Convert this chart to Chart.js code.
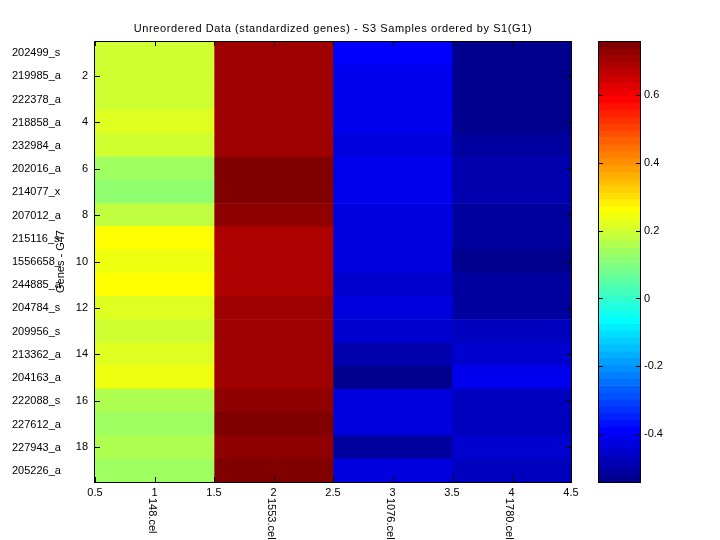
<!DOCTYPE html>
<html>
<head>
<meta charset="utf-8">
<script src="https://cdn.jsdelivr.net/npm/chart.js@4.4.1/dist/chart.umd.min.js"></script>
<style>
  body { margin: 0; background: #fff; }
  #wrap { position: relative; width: 720px; height: 540px; background: #fff; }
  #wrap canvas { position: absolute; left: 0; top: 0; }
</style>
</head>
<body>
<div id="wrap">
  <canvas id="heatmap-canvas" width="720" height="540"></canvas>
  <canvas id="colorbar-canvas" width="720" height="540"></canvas>
</div>
<script>
// heatmap of standardized genes, jet colormap

const chartTitle = 'Unreordered Data (standardized genes) - S3 Samples ordered by S1(G1)'
const yTitle = 'Genes - G47'

const genes = ['202499_s', '219985_a', '222378_a', '218858_a', '232984_a', '202016_a', '214077_x',
  '207012_a', '215116_s', '1556658_', '244885_a', '204784_s', '209956_s', '213362_a', '204163_a',
  '222088_s', '227612_a', '227943_a', '205226_a']
const samples = ['148.cel', '1553.cel', '1076.cel', '1780.cel']

// one array per sample, one value per gene (top to bottom)
const s148 = [0.20, 0.20, 0.20, 0.22, 0.20, 0.14, 0.12, 0.18, 0.26, 0.24, 0.26, 0.22, 0.20, 0.22, 0.24, 0.16, 0.14, 0.16, 0.14]
const s1553 = [0.71, 0.71, 0.71, 0.71, 0.71, 0.75, 0.75, 0.73, 0.69, 0.69, 0.69, 0.71, 0.71, 0.71, 0.71, 0.73, 0.75, 0.73, 0.75]
const s1076 = [-0.39, -0.41, -0.41, -0.41, -0.43, -0.41, -0.41, -0.42, -0.43, -0.43, -0.45, -0.43, -0.45, -0.49, -0.53, -0.43, -0.43, -0.51, -0.43]
const s1780 = [-0.53, -0.53, -0.53, -0.53, -0.51, -0.49, -0.49, -0.51, -0.51, -0.53, -0.51, -0.51, -0.47, -0.45, -0.41, -0.47, -0.47, -0.45, -0.47]
const sampleValues = [s148, s1553, s1076, s1780]

const xTicks = [0.5, 1, 1.5, 2, 2.5, 3, 3.5, 4, 4.5]
const yTicks = [2, 4, 6, 8, 10, 12, 14, 16, 18]
const colorTicks = [-0.4, -0.2, 0, 0.2, 0.4, 0.6]
const colorMin = -0.541
const colorMax = 0.759
const colorLevels = 64

Chart.defaults.font.family = '"Liberation Sans", Arial, sans-serif'
Chart.defaults.font.size = 11
Chart.defaults.color = '#000'

// matlab jet(64), level 1..64
function jetLevel(i) {
  let r = 0, g = 0, b = 0
  if (i <= 8) { b = 0.5 + i / 16 }
  else if (i <= 24) { g = (i - 8) / 16; b = 1 }
  else if (i <= 40) { r = (i - 24) / 16; g = 1; b = 1 - (i - 24) / 16 }
  else if (i <= 56) { r = 1; g = 1 - (i - 40) / 16 }
  else { r = 1 - (i - 56) / 16 }
  return 'rgb(' + Math.round(r * 255) + ',' + Math.round(g * 255) + ',' + Math.round(b * 255) + ')'
}

function jetColor(v) {
  let k = Math.floor((v - colorMin) / (colorMax - colorMin) * colorLevels)
  k = Math.max(0, Math.min(colorLevels - 1, k))
  return jetLevel(k + 1)
}

function drawInwardTicks(ctx, area, scale, values, horizontal, len) {
  values.forEach(v => {
    const p = Math.round(scale.getPixelForValue(v)) + 0.5
    ctx.beginPath()
    if (horizontal) {
      ctx.moveTo(p, area.top); ctx.lineTo(p, area.top + len)
      ctx.moveTo(p, area.bottom); ctx.lineTo(p, area.bottom - len)
    } else {
      ctx.moveTo(area.left, p); ctx.lineTo(area.left + len, p)
      ctx.moveTo(area.right, p); ctx.lineTo(area.right - len, p)
    }
    ctx.stroke()
  })
}

const heatmapDecor = {
  id: 'heatmapDecor',
  afterDraw(chart) {
    const { ctx, chartArea: a, scales: { x, y } } = chart
    ctx.save()
    ctx.strokeStyle = '#000'
    ctx.lineWidth = 1
    ctx.strokeRect(Math.round(a.left) - 0.5, Math.round(a.top) + 0.5, Math.round(a.right - a.left) + 1, Math.round(a.bottom - a.top))
    drawInwardTicks(ctx, a, x, xTicks, true, 5)
    drawInwardTicks(ctx, a, y, yTicks, false, 5)

    ctx.fillStyle = '#000'
    ctx.font = '11px "Liberation Sans", Arial, sans-serif'
    // title (matlab font runs a bit wider)
    ctx.save()
    ctx.letterSpacing = '0.6px'
    ctx.textAlign = 'center'
    ctx.textBaseline = 'alphabetic'
    ctx.fillText(chartTitle, (a.left + a.right) / 2, 32)
    ctx.restore()

    // gene names
    ctx.textAlign = 'left'
    ctx.textBaseline = 'middle'
    genes.forEach((g, i) => {
      ctx.fillText(g, 12, y.getPixelForValue(i + 1) + 0.5)
    })

    // sample names, rotated
    samples.forEach((s, i) => {
      ctx.save()
      ctx.translate(x.getPixelForValue(i + 1) - 2, 498)
      ctx.rotate(Math.PI / 2)
      ctx.textAlign = 'left'
      ctx.textBaseline = 'middle'
      ctx.fillText(s, 0, 0)
      ctx.restore()
    })

    // y title
    ctx.save()
    ctx.translate(61, (a.top + a.bottom) / 2)
    ctx.rotate(-Math.PI / 2)
    ctx.textAlign = 'center'
    ctx.textBaseline = 'middle'
    ctx.fillText(yTitle, 0, 0)
    ctx.restore()
    ctx.restore()
  },
}

function generateHeatmap() {
  const ctx = document.getElementById('heatmap-canvas').getContext('2d')
  return new Chart(ctx, {
    type: 'bar',
    data: {
      datasets: samples.map((name, c) => ({
        label: name,
        data: genes.map((g, r) => ({ y: r + 1, x: [c + 0.5, c + 1.5] })),
        backgroundColor: sampleValues[c].map(jetColor),
        borderWidth: 0,
        grouped: false,
        barPercentage: 1,
        categoryPercentage: 1,
      })),
    },
    options: {
      indexAxis: 'y',
      responsive: false,
      animation: false,
      events: [],
      layout: { padding: { top: 41, right: 149, left: 0, bottom: 0 } },
      scales: {
        x: {
          type: 'linear',
          min: 0.5,
          max: 4.5,
          afterBuildTicks: s => { s.ticks = xTicks.map(v => ({ value: v })) },
          afterFit: s => { s.height = 58 },
          grid: { display: false, drawTicks: false },
          border: { display: false },
          ticks: { padding: 4, autoSkip: false, maxRotation: 0, callback: v => String(v) },
        },
        y: {
          type: 'linear',
          reverse: true,
          offset: false,
          min: 0.5,
          max: 19.5,
          afterBuildTicks: s => { s.ticks = yTicks.map(v => ({ value: v })) },
          afterFit: s => { s.width = 95 },
          grid: { display: false, drawTicks: false, offset: false },
          border: { display: false },
          ticks: { padding: 7, autoSkip: false, callback: v => String(v) },
        },
      },
      plugins: {
        legend: { display: false },
        tooltip: { enabled: false },
      },
    },
    plugins: [heatmapDecor],
  })
}

const colorbarDecor = {
  id: 'colorbarDecor',
  afterDraw(chart) {
    const { ctx, chartArea: a, scales: { y } } = chart
    ctx.save()
    ctx.strokeStyle = '#000'
    ctx.lineWidth = 1
    ctx.strokeRect(Math.round(a.left) - 0.5, Math.round(a.top) + 0.5, Math.round(a.right - a.left) + 1, Math.round(a.bottom - a.top))
    drawInwardTicks(ctx, a, y, colorTicks, false, 4)
    ctx.restore()
  },
}

function generateColorbar() {
  const ctx = document.getElementById('colorbar-canvas').getContext('2d')
  const step = (colorMax - colorMin) / colorLevels
  const bins = []
  const binColors = []
  for (let k = 0; k < colorLevels; k++) {
    bins.push({ x: 'c', y: [colorMin + k * step, colorMin + (k + 1) * step] })
    binColors.push(jetLevel(k + 1))
  }
  return new Chart(ctx, {
    type: 'bar',
    data: {
      labels: ['c'],
      datasets: [{
        data: bins,
        backgroundColor: binColors,
        borderWidth: 0,
        barPercentage: 1,
        categoryPercentage: 1,
      }],
    },
    options: {
      responsive: false,
      animation: false,
      events: [],
      layout: { padding: { top: 41, right: 0, left: 599, bottom: 58 } },
      scales: {
        x: { type: 'category', display: false },
        y: {
          type: 'linear',
          position: 'right',
          min: colorMin,
          max: colorMax,
          afterBuildTicks: s => { s.ticks = colorTicks.map(v => ({ value: v })) },
          afterFit: s => { s.width = 80 },
          grid: { display: false, drawTicks: false },
          border: { display: false },
          ticks: { padding: 4, autoSkip: false, callback: v => String(v) },
        },
      },
      plugins: {
        legend: { display: false },
        tooltip: { enabled: false },
      },
    },
    plugins: [colorbarDecor],
  })
}

generateHeatmap()
generateColorbar()
</script>
</body>
</html>
